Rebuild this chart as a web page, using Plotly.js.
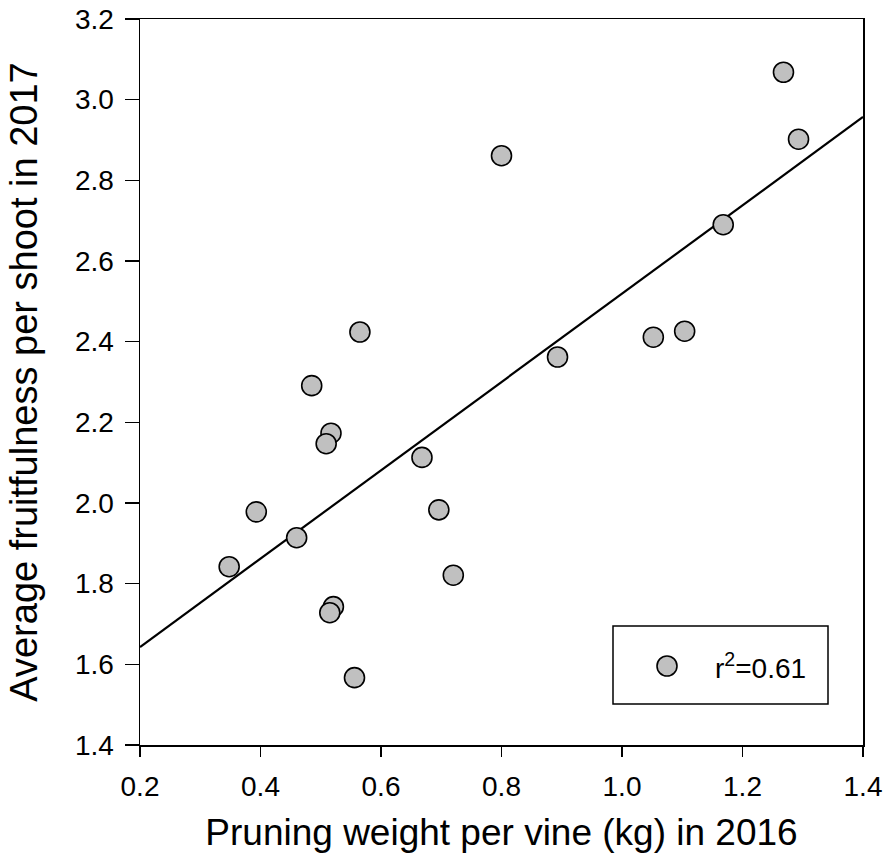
<!DOCTYPE html>
<html>
<head>
<meta charset="utf-8">
<script src="https://cdn.plot.ly/plotly-3.0.1.min.js"></script>
<style>html,body{margin:0;padding:0;background:#fff;}#chart{width:885px;height:864px;}</style>
</head>
<body>
<div id="chart"></div>
<script>
// Pruning weight per vine (kg) in 2016
const pruningWeight = [0.348, 0.393, 0.460, 0.485, 0.517, 0.509, 0.521, 0.515, 0.556, 0.565,
                       0.668, 0.696, 0.720, 0.800, 0.893, 1.052, 1.104, 1.168, 1.268, 1.293];
// Average fruitfulness per shoot in 2017
const fruitfulness = [1.842, 1.978, 1.914, 2.291, 2.173, 2.147, 1.743, 1.728, 1.567, 2.424,
                      2.113, 1.983, 1.821, 2.861, 2.362, 2.411, 2.426, 2.690, 3.068, 2.902];
// Fitted regression line
const fitX = [0.2, 1.4];
const fitY = [1.643, 2.957];
const legendLabel = 'r<sup>2</sup>=0.61';
const xTickVals = [0.2, 0.4, 0.6, 0.8, 1.0, 1.2, 1.4];
const yTickVals = [1.4, 1.6, 1.8, 2.0, 2.2, 2.4, 2.6, 2.8, 3.0, 3.2];

const FONT = 'Liberation Sans, Arial, sans-serif';

const traces = [
  {
    x: fitX, y: fitY, type: 'scatter', mode: 'lines',
    line: {color: '#000', width: 2.2}, showlegend: false, hoverinfo: 'skip'
  },
  {
    x: pruningWeight, y: fruitfulness, type: 'scatter', mode: 'markers',
    name: legendLabel,
    marker: {size: 20, color: '#c0c0c0', line: {color: '#000', width: 1.6}},
    showlegend: false
  }
];

const L = 140, R = 22, T = 19, B = 119;
const plotW = 885 - L - R, plotH = 864 - T - B;
function px2x(p) { return (p - L) / plotW; }
function py2y(p) { return (864 - B - p) / plotH; }

const layout = {
  width: 885, height: 864,
  margin: {l: L, r: R, t: T, b: B},
  paper_bgcolor: '#fff', plot_bgcolor: '#fff',
  font: {family: FONT, color: '#000'},
  showlegend: false,
  xaxis: {
    range: [0.2, 1.4], tickvals: xTickVals, tickformat: '.1f',
    ticks: 'outside', ticklen: 10, tickwidth: 1.5, tickcolor: '#000',
    showline: true, linecolor: '#000', linewidth: 1.5, mirror: true,
    showgrid: false, zeroline: false, ticklabelstandoff: 6,
    tickfont: {size: 28, family: FONT, color: '#000'},
    title: {text: 'Pruning weight per vine (kg) in 2016', font: {size: 37, family: FONT, color: '#000'}, standoff: 18},
    automargin: false
  },
  yaxis: {
    range: [1.4, 3.2], tickvals: yTickVals, tickformat: '.1f',
    ticks: 'outside', ticklen: 14, tickwidth: 1.5, tickcolor: '#000',
    showline: true, linecolor: '#000', linewidth: 1.5, mirror: true,
    showgrid: false, zeroline: false, ticklabelstandoff: 5,
    tickfont: {size: 28, family: FONT, color: '#000'},
    title: {text: 'Average fruitfulness per shoot in 2017', font: {size: 38, family: FONT, color: '#000'}, standoff: 25},
    automargin: false
  },
  shapes: [
    {type: 'rect', xref: 'paper', yref: 'paper',
     x0: px2x(613), x1: px2x(828), y0: py2y(704), y1: py2y(626),
     line: {color: '#000', width: 1.5}, fillcolor: 'rgba(0,0,0,0)'},
    {type: 'circle', xref: 'paper', yref: 'paper',
     xsizemode: 'pixel', ysizemode: 'pixel',
     xanchor: px2x(667), yanchor: py2y(666),
     x0: -10, x1: 10, y0: -10, y1: 10,
     fillcolor: '#c0c0c0', line: {color: '#000', width: 1.6}}
  ],
  annotations: [
    {xref: 'paper', yref: 'paper', x: px2x(713), y: py2y(666),
     xanchor: 'left', yanchor: 'middle', showarrow: false,
     text: legendLabel, font: {size: 28, family: FONT, color: '#000'}}
  ]
};

Plotly.newPlot('chart', traces, layout, {displayModeBar: false, staticPlot: true});
</script>
</body>
</html>
